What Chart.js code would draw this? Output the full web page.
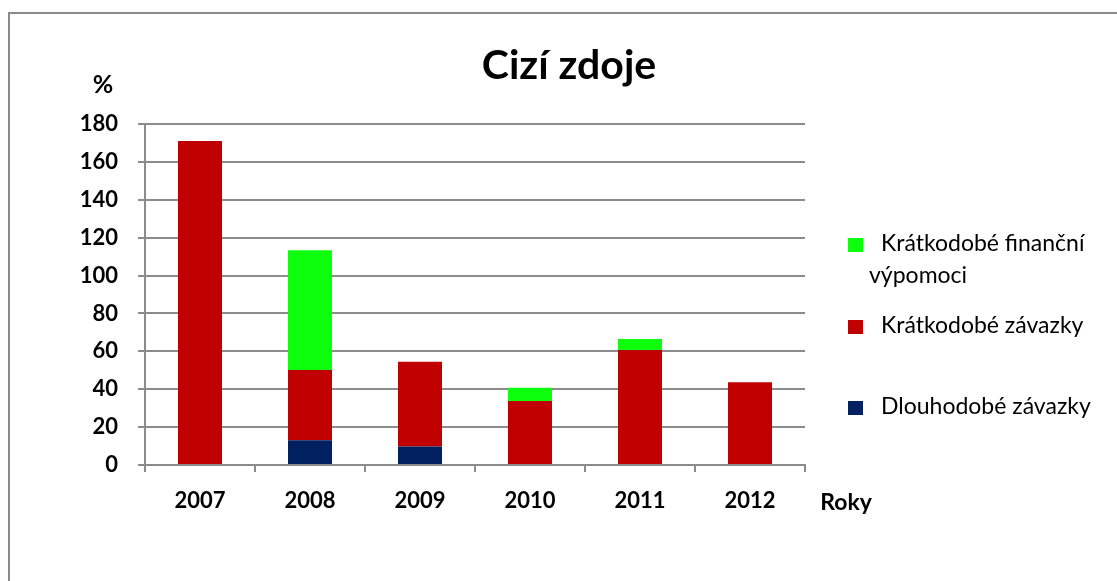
<!DOCTYPE html>
<html>
<head>
<meta charset="utf-8">
<script src="https://cdn.jsdelivr.net/npm/chart.js@4"></script>
<style>
  html, body { margin: 0; padding: 0; background: #fff; }
  #wrap { width: 1117px; height: 581px; position: relative; }
</style>
</head>
<body>
<div id="wrap"><canvas id="cizi-zdroje"></canvas></div>
<script>
// data
const roky = ["2007", "2008", "2009", "2010", "2011", "2012"];
const dlouhodobe = [0, 13, 9.7, 0, 0, 0];
const kratkodobeZav = [171, 37.2, 44.8, 33.8, 60.7, 43.7];
const financniVyp = [0, 63.1, 0, 7, 5.8, 0];
const yTicks = [0, 20, 40, 60, 80, 100, 120, 140, 160, 180];

const FONT = "Lato, 'Open Sans', sans-serif";
const GRID = "#8c8c8c";

// texty a legenda kreslene rucne
const popisky = {
  id: "popisky",
  afterDraw(chart) {
    const ctx = chart.ctx;
    ctx.save();
    // ramecek (jen horni a leva hrana)
    ctx.strokeStyle = "#8a8a8a";
    ctx.lineWidth = 2;
    ctx.beginPath();
    ctx.moveTo(9, 581);
    ctx.lineTo(9, 13);
    ctx.lineTo(1117, 13);
    ctx.stroke();

    ctx.fillStyle = "#000";
    ctx.textAlign = "center";
    ctx.textBaseline = "middle";
    ctx.font = "bold 41px " + FONT;
    ctx.fillText("Cizí zdoje", 569, 66);
    ctx.font = "bold 25px " + FONT;
    ctx.fillText("%", 103, 85);
    ctx.font = "bold 23px " + FONT;
    ctx.fillText("Roky", 846, 503);

    // legenda - poradi shora: zelena, cervena, modra
    const polozky = [
      { ds: 2, y: 244, lines: ["Krátkodobé finanční", "výpomoci"] },
      { ds: 1, y: 326, lines: ["Krátkodobé závazky"] },
      { ds: 0, y: 407, lines: ["Dlouhodobé závazky"] },
    ];
    ctx.font = "23px " + FONT;
    ctx.textAlign = "left";
    polozky.forEach((p) => {
      const d = chart.data.datasets[p.ds];
      ctx.fillStyle = d.backgroundColor;
      ctx.fillRect(848, p.y - 6, 15, 14);
      ctx.fillStyle = "#000";
      ctx.fillText(p.lines[0], 881, p.y);
      if (p.lines[1]) ctx.fillText(p.lines[1], 869, p.y + 32);
    });
    ctx.restore();
  },
};

new Chart(document.getElementById("cizi-zdroje").getContext("2d"), {
  type: "bar",
  data: {
    labels: roky,
    datasets: [
      { label: "Dlouhodobé závazky", data: dlouhodobe, backgroundColor: "#002060" },
      { label: "Krátkodobé závazky", data: kratkodobeZav, backgroundColor: "#c00000" },
      { label: "Krátkodobé finanční výpomoci", data: financniVyp, backgroundColor: "#0dff0d" },
    ],
  },
  options: {
    responsive: true,
    maintainAspectRatio: false,
    animation: false,
    datasets: { bar: { barPercentage: 0.8, categoryPercentage: 0.5 } },
    layout: { padding: { left: 0, right: 312, top: 124, bottom: 0 } },
    scales: {
      x: {
        stacked: true,
        afterFit: (s) => { s.height = 116; },
        grid: { display: true, drawOnChartArea: false, offset: true, tickLength: 7, color: GRID, lineWidth: 2 },
        border: { color: GRID, width: 2 },
        ticks: { color: "#000", padding: 16, font: { family: FONT, size: 22, weight: "bold" } },
      },
      y: {
        stacked: true,
        min: 0,
        max: 180,
        afterFit: (s) => { s.width = 145; },
        afterBuildTicks: (s) => { s.ticks = yTicks.map((v) => ({ value: v })); },
        grid: { color: GRID, lineWidth: 2, tickLength: 7 },
        border: { color: GRID, width: 2 },
        ticks: { color: "#000", padding: 20, font: { family: FONT, size: 22, weight: "bold" } },
      },
    },
    plugins: {
      legend: { display: false },
      title: { display: false },
      tooltip: { enabled: false },
    },
  },
  plugins: [popisky],
});
</script>
</body>
</html>
